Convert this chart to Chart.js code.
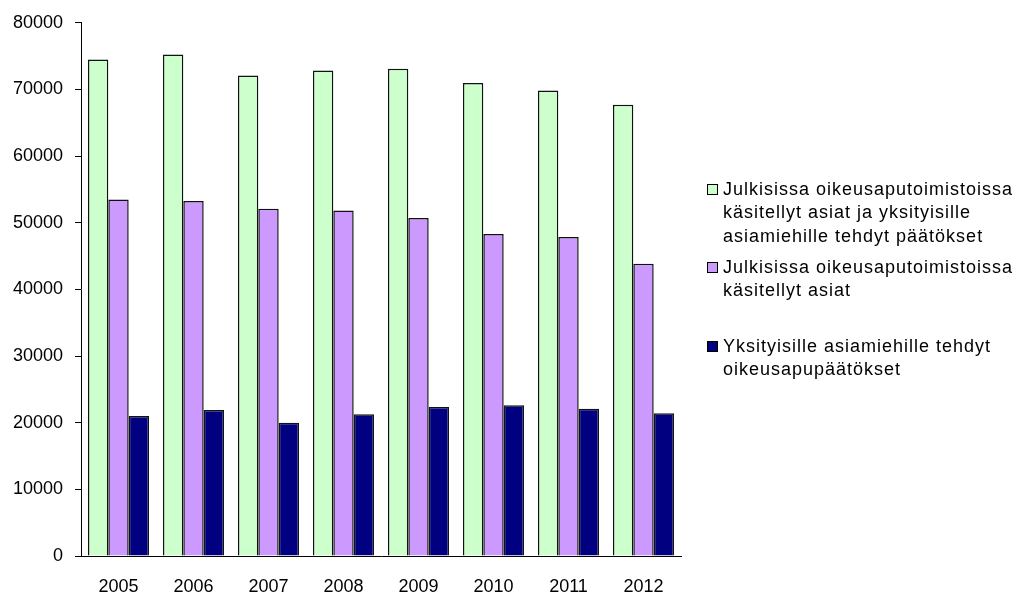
<!DOCTYPE html>
<html>
<head>
<meta charset="utf-8">
<script src="https://cdn.jsdelivr.net/npm/chart.js@4"></script>
<style>
  html, body { margin: 0; padding: 0; background: #fff; }
  #wrap { width: 1017px; height: 594px; position: relative; }
</style>
</head>
<body>
<div id="wrap"><canvas id="chart"></canvas></div>
<script>
const years = ["2005", "2006", "2007", "2008", "2009", "2010", "2011", "2012"];
const kaikki = [74500, 75250, 72100, 72850, 73100, 70950, 69850, 67700];
const julkiset = [53500, 53250, 52100, 51850, 50700, 48300, 47850, 43850];
const yksityiset = [21000, 21900, 20000, 21250, 22350, 22600, 22100, 21400];
const yTicks = [0, 10000, 20000, 30000, 40000, 50000, 60000, 70000, 80000];
const legendLines = [
    ["Julkisissa oikeusaputoimistoissa", "käsitellyt asiat ja yksityisille", "asiamiehille tehdyt päätökset"],
    ["Julkisissa oikeusaputoimistoissa", "käsitellyt asiat"],
    ["Yksityisille asiamiehille tehdyt", "oikeusapupäätökset"]
];
const legendTop = [189, 267, 346];

// legend drawn by hand, the built-in one can't do multi-line items
const sideLegend = {
    id: 'sideLegend',
    afterDraw(chart) {
        const ctx = chart.ctx;
        ctx.save();
        ctx.font = '18px "Liberation Sans", Arial, sans-serif';
        ctx.letterSpacing = '1px';
        ctx.textBaseline = 'middle';
        chart.data.datasets.forEach((ds, i) => {
            const y = legendTop[i];
            ctx.fillStyle = ds.backgroundColor;
            ctx.fillRect(707, y - 5, 10, 10);
            ctx.strokeStyle = '#000';
            ctx.lineWidth = 1;
            ctx.strokeRect(707.5, y - 4.5, 10, 10);
            ctx.fillStyle = '#000';
            legendLines[i].forEach((line, j) => {
                ctx.fillText(line, 723, y + 1 + j * 23.5);
            });
        });
        ctx.restore();
    }
};

new Chart(document.getElementById('chart'), {
    type: 'bar',
    data: {
        labels: years,
        datasets: [
            { label: legendLines[0].join(' '), data: kaikki, backgroundColor: '#CCFFCC' },
            { label: legendLines[1].join(' '), data: julkiset, backgroundColor: '#CC99FF' },
            { label: legendLines[2].join(' '), data: yksityiset, backgroundColor: '#000080' }
        ]
    },
    options: {
        responsive: true,
        maintainAspectRatio: false,
        animation: false,
        layout: { padding: { top: 22, right: 336, left: 0, bottom: 0 } },
        datasets: {
            bar: {
                borderColor: '#111',
                borderWidth: 1.5,
                categoryPercentage: 0.815,
                barPercentage: 1.0
            }
        },
        plugins: {
            legend: { display: false },
            tooltip: { enabled: false }
        },
        scales: {
            x: {
                grid: { display: false, drawTicks: false },
                border: { color: '#000', width: 1 },
                ticks: {
                    color: '#000',
                    padding: 20,
                    maxRotation: 0,
                    font: { family: '"Liberation Sans", Arial, sans-serif', size: 18 }
                },
                afterFit(scale) { scale.height = 38; }
            },
            y: {
                min: 0,
                max: 80000,
                afterBuildTicks(scale) { scale.ticks = yTicks.map(v => ({ value: v })); },
                grid: { drawOnChartArea: false, drawTicks: true, tickLength: 6, color: '#000' },
                border: { color: '#000', width: 1 },
                ticks: {
                    color: '#000',
                    padding: 12,
                    callback: v => String(v),
                    font: { family: '"Liberation Sans", Arial, sans-serif', size: 18 }
                },
                afterFit(scale) { scale.width = 81; }
            }
        }
    },
    plugins: [sideLegend]
});
</script>
</body>
</html>
